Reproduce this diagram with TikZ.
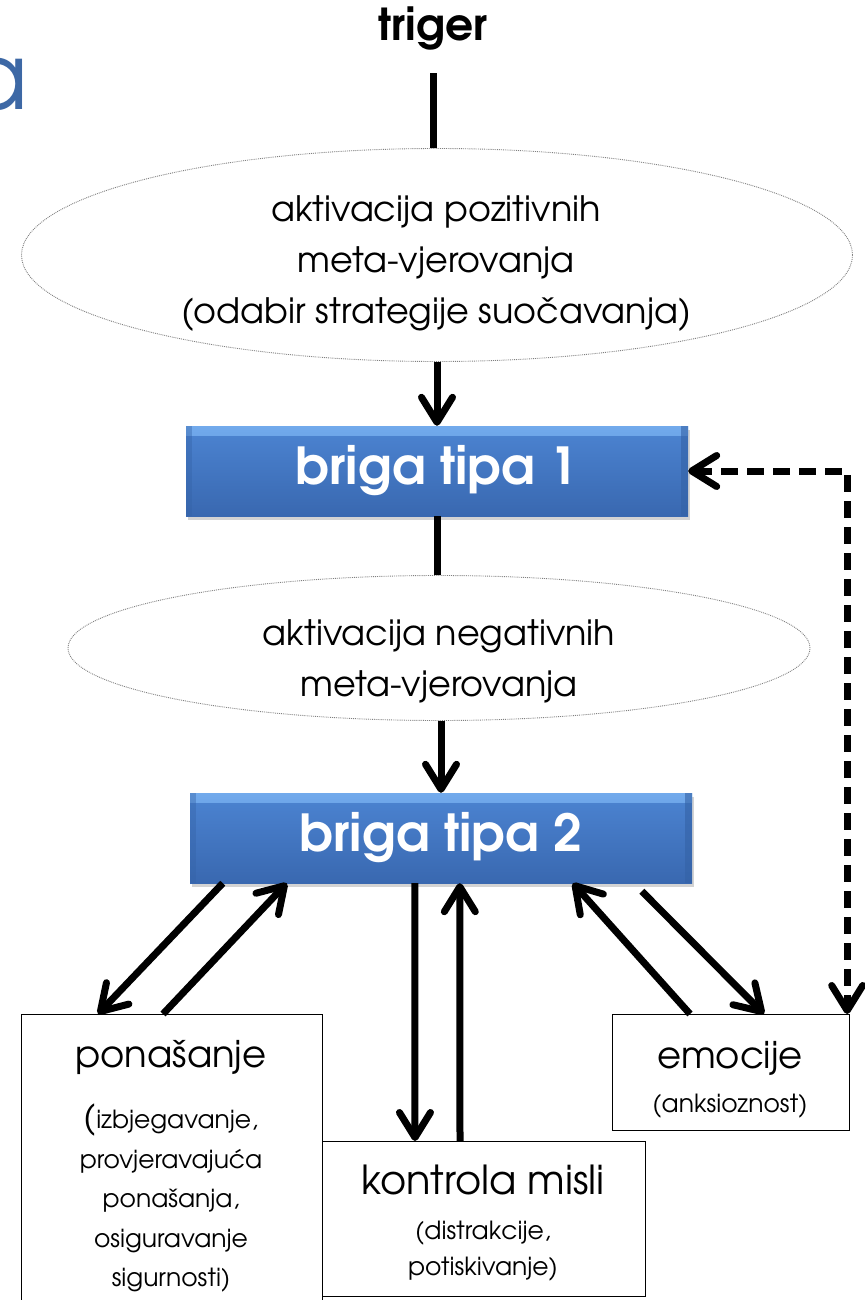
\documentclass[tikz,border=0pt]{standalone}
\usepackage{fontspec}
\setmainfont{TeX Gyre Adventor}
\usetikzlibrary{arrows.meta,shapes.geometric,shadows}
\definecolor{brigatop}{HTML}{4C84D2}
\definecolor{brigabot}{HTML}{3968B0}
\definecolor{brigahi}{HTML}{72AAEC}
\definecolor{brigarub}{HTML}{3462A6}
\definecolor{naslov}{HTML}{3D68A5}
\definecolor{obrub}{HTML}{808080}
\begin{document}
\begin{tikzpicture}[x=1pt,y=-1pt,
    conn/.style={line width=7pt,-{Straight Barb[length=25pt,width=31pt,round]}},
    oval/.style={ellipse,draw=obrub,densely dotted,line width=0.9pt,inner sep=0pt},
    ovaltekst/.style={align=center,inner sep=0pt,font=\fontsize{35}{51}\selectfont},
    briga/.style={rectangle,minimum width=502pt,minimum height=90pt,
        top color=brigatop,bottom color=brigabot,
        drop shadow={shadow xshift=2pt,shadow yshift=-4pt,opacity=0.35},
        path picture={
            \shade[top color=brigahi,bottom color=brigatop] (path picture bounding box.north west)
                rectangle ([yshift=-9pt]path picture bounding box.north east);
            \fill[brigarub,opacity=0.6] ([xshift=-7pt]path picture bounding box.north east)
                rectangle (path picture bounding box.south east);
            \fill[brigarub,opacity=0.4] (path picture bounding box.north west)
                rectangle ([xshift=6pt]path picture bounding box.south west);},
        text=white,font=\bfseries\fontsize{51}{51}\selectfont},
    kutija/.style={rectangle,draw,line width=1.2pt,anchor=north west},
    tekst/.style={align=center,inner sep=0pt,anchor=north,font=\fontsize{25}{39.5}\selectfont}]
    \useasboundingbox (0,0) rectangle (864,1300);
    % naslov i triger
    \node[font=\fontsize{92}{92}\selectfont,text=naslov,anchor=base east,inner sep=0pt] (ttl) at (29,110) {a};
    \node[font=\bfseries\fontsize{44}{44}\selectfont] (trig) at (433,28) {triger};
    % glavni tok
    \node[oval,minimum width=831pt,minimum height=213pt] (e1) at (437,255) {};
    \node[ovaltekst] (e1T) at (436,264) {aktivacija pozitivnih\\meta-vjerovanja\\(odabir strategije suočavanja)};
    \node[briga] (b1) at (437,471) {briga tipa 1};
    \node[oval,minimum width=742pt,minimum height=145pt] (e2) at (439,648) {};
    \node[ovaltekst] (e2T) at (439,661) {aktivacija negativnih\\meta-vjerovanja};
    \node[briga] (b2) at (441,838) {briga tipa 2};
    % donje kutije
    \node[kutija,minimum width=301pt,minimum height=330pt] (pon) at (21,1014) {};
    \node[kutija,minimum width=323pt,minimum height=155pt] (kon) at (322,1141) {};
    \node[kutija,minimum width=237pt,minimum height=116pt] (emo) at (612,1014) {};
    \node[tekst] (ponT) at (171,1040) {{\fontsize{37}{37}\selectfont ponašanje}\\[22pt]%
        {\fontsize{34}{34}\selectfont(}izbjegavanje,\\provjeravajuća\\ponašanja,\\osiguravanje\\sigurnosti)};
    \node[tekst,font=\fontsize{25}{36}\selectfont] (konT) at (483,1165)
        {{\fontsize{40}{40}\selectfont kontrola misli}\\[9pt](distrakcije,\\potiskivanje)};
    \node[tekst] (emoT) at (730,1041) {{\fontsize{37}{37}\selectfont emocije}\\[5pt](anksioznost)};
    % veze
    \draw[line width=7pt] ([yshift=-20pt]trig.south) -- (trig.south |- e1.north);
    \draw[conn] (e1.south) -- (b1.north);
    \draw[line width=7pt] (b1.south) -- (b1.south |- e2.north);
    \draw[conn] (b2.north |- e2.south) -- (b2.north);
    \draw[conn] ([xshift=33pt]b2.south west) -- ([xshift=77pt]pon.north west);
    \draw[conn] ([xshift=142pt]pon.north west) -- ([xshift=97pt]b2.south west);
    \draw[conn] ([xshift=225pt]b2.south west) -- ([xshift=93pt]kon.north west);
    \draw[conn] ([xshift=138pt]kon.north west) -- ([xshift=270pt]b2.south west);
    \draw[conn] ([xshift=78pt]emo.north west) -- ([xshift=383pt]b2.south west);
    \draw[conn] ([xshift=452pt,yshift=-8pt]b2.south west) -- ([xshift=152pt]emo.north west);
    \draw[line width=7pt,dash pattern=on 17pt off 9pt,
        {Straight Barb[length=25pt,width=31pt,round]}-{Straight Barb[length=25pt,width=31pt,round]}]
        (b1.east) -| ([xshift=-3pt]emo.north east);
\end{tikzpicture}
\end{document}
